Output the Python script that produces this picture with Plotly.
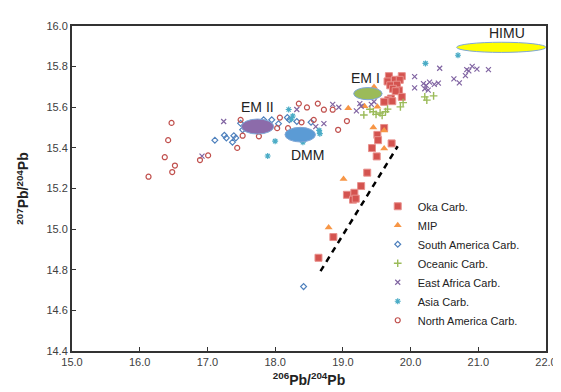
import plotly.graph_objects as go

# ---- data ----
oka_x = [19.68, 19.77, 19.87, 19.84, 19.66, 19.70, 19.80, 19.74, 19.83, 19.78, 19.71, 19.67, 19.61, 19.73, 19.87,
         19.61, 19.51, 19.52, 19.72, 19.43, 19.50, 19.36, 19.27, 19.06, 19.17, 19.15, 19.19, 18.86, 18.64]
oka_y = [15.753, 15.735, 15.753, 15.735, 15.727, 15.708, 15.711, 15.691, 15.683, 15.679, 15.643, 15.635, 15.627, 15.630, 15.651,
         15.498, 15.464, 15.438, 15.422, 15.399, 15.358, 15.278, 15.212, 15.169, 15.179, 15.145, 15.150, 14.961, 14.859]

mip_x = [19.08, 19.32, 19.51, 19.46, 19.45, 19.61, 19.61, 19.01, 18.79]
mip_y = [15.595, 15.605, 15.603, 15.700, 15.500, 15.485, 15.397, 15.247, 15.008]

sam_x = [17.11, 17.25, 17.28, 17.39, 17.37, 17.42, 17.49, 17.52, 17.83, 17.95, 18.05, 18.18, 18.21, 18.32, 18.53, 18.42]
sam_y = [15.438, 15.462, 15.449, 15.460, 15.428, 15.449, 15.521, 15.489, 15.538, 15.538, 15.519, 15.549, 15.538, 15.530, 15.526, 14.717]

oce_x = [19.31, 19.45, 19.49, 19.55, 19.63, 19.66, 19.85, 19.89, 20.21, 20.24, 20.34, 19.40, 19.58]
oce_y = [15.562, 15.578, 15.565, 15.572, 15.578, 15.591, 15.602, 15.623, 15.651, 15.635, 15.656, 15.590, 15.560]

eaf_x = [16.92, 17.24, 18.32, 18.85, 18.94, 18.60, 18.72, 19.20, 19.25, 19.27, 19.42, 19.46, 20.06, 20.06, 20.19,
         20.23, 20.21, 20.26, 20.28, 20.35, 20.41, 20.43, 20.64, 20.72, 20.81, 20.83, 20.86, 20.91, 20.98, 21.15]
eaf_y = [15.359, 15.530, 15.589, 15.614, 15.600, 15.505, 15.519, 15.582, 15.618, 15.605, 15.614, 15.627, 15.751, 15.695, 15.716,
         15.708, 15.691, 15.684, 15.724, 15.713, 15.719, 15.792, 15.740, 15.720, 15.756, 15.785, 15.779, 15.801, 15.788, 15.785]

asia_x = [18.20, 18.26, 18.24, 18.00, 17.89, 18.41, 18.65, 18.66, 20.22, 20.70]
asia_y = [15.589, 15.557, 15.541, 15.433, 15.360, 15.428, 15.486, 15.470, 15.816, 15.856]

nam_x = [16.47, 16.42, 16.37, 16.52, 16.48, 16.13, 16.89, 17.01, 17.44, 17.52, 17.49, 17.76, 18.03, 18.07, 18.35,
         18.47, 18.63, 18.72, 18.85, 18.39, 18.57, 18.93, 18.19, 19.06]
nam_y = [15.523, 15.438, 15.354, 15.313, 15.281, 15.258, 15.340, 15.363, 15.400, 15.460, 15.538, 15.457, 15.497, 15.549, 15.618,
         15.599, 15.618, 15.588, 15.588, 15.526, 15.538, 15.489, 15.497, 15.532]

trend_x = [18.67, 19.81]
trend_y = [14.793, 15.408]

# end-member reservoirs
em_names = ["EM II", "DMM", "EM I", "HIMU"]
em_cx = [17.74, 18.37, 19.37, 21.34]
em_cy = [15.505, 15.465, 15.667, 15.895]
em_rx = [0.24, 0.225, 0.21, 0.66]
em_ry = [0.037, 0.036, 0.030, 0.025]
em_lx = [17.74, 18.48, 19.34, 21.43]
em_ly = [15.60, 15.365, 15.742, 15.965]
em_fill = ["#8C6BAA", "#5B9BD5", "#9BBB59", "#FFFF00"]

x_ticks = [15.0, 16.0, 17.0, 18.0, 19.0, 20.0, 21.0, 22.0]
y_ticks = [14.4, 14.6, 14.8, 15.0, 15.2, 15.4, 15.6, 15.8, 16.0]

fig = go.Figure()

def add(name, xs, ys, symbol, color, size, lw=1.2, fill=None):
    fig.add_trace(go.Scatter(
        x=xs, y=ys, mode="markers", name=name,
        marker=dict(symbol=symbol, size=size,
                    color=fill if fill else color,
                    line=dict(color=color, width=lw)),
    ))

add("Oka Carb.", oka_x, oka_y, "square", "#E8908C", 7, lw=1, fill="#D4534F")
add("MIP", mip_x, mip_y, "triangle-up", "#F79646", 7, lw=0, fill="#F79646")
add("South America Carb.", sam_x, sam_y, "diamond-open", "#4F81BD", 4.5)
add("Oceanic Carb.", oce_x, oce_y, "cross-thin-open", "#9BBB59", 5.5, lw=1.4)
add("East Africa Carb.", eaf_x, eaf_y, "x-thin-open", "#8064A2", 5, lw=1.2)
add("Asia Carb.", asia_x, asia_y, "asterisk-open", "#4BACC6", 5, lw=1.2)
add("North America Carb.", nam_x, nam_y, "circle-open", "#C0504D", 5, lw=1.2)

fig.add_trace(go.Scatter(x=trend_x, y=trend_y, mode="lines", showlegend=False,
                         line=dict(color="black", width=2.5, dash="6px,5px")))

shapes = []
for i in range(len(em_names)):
    shapes.append(dict(type="circle", xref="x", yref="y", layer="above",
                       x0=em_cx[i] - em_rx[i], x1=em_cx[i] + em_rx[i],
                       y0=em_cy[i] - em_ry[i], y1=em_cy[i] + em_ry[i],
                       fillcolor=em_fill[i], line=dict(color="#7FA7D6", width=1)))
    fig.add_annotation(x=em_lx[i], y=em_ly[i], text=em_names[i], showarrow=False,
                       font=dict(size=14, color="#222222", family="Liberation Sans, Arial"))

fig.update_layout(
    width=561, height=392,
    margin=dict(l=64, r=12, t=13, b=49),
    paper_bgcolor="white", plot_bgcolor="white",
    font=dict(family="Liberation Sans, Arial", size=11, color="#404040"),
    shapes=shapes,
    showlegend=True,
    legend=dict(x=0.645, y=0.49, xanchor="left", yanchor="top",
                bgcolor="rgba(0,0,0,0)", font=dict(size=11, color="#222222"),
                itemwidth=30, tracegroupgap=0),
    xaxis=dict(range=[15, 22], tickvals=x_ticks, ticktext=[f"{v:.1f}" for v in x_ticks],
               showgrid=False, zeroline=False, showline=True, linecolor="#333333", linewidth=2,
               mirror=True, ticks="inside", ticklen=4, tickcolor="#333333",
               title=dict(text="<b><sup>206</sup>Pb/<sup>204</sup>Pb</b>", font=dict(size=14, color="#222222"), standoff=8)),
    yaxis=dict(range=[14.4, 16.0], tickvals=y_ticks, ticktext=[f"{v:.1f}" for v in y_ticks],
               showgrid=False, zeroline=False, showline=True, linecolor="#333333", linewidth=2,
               mirror=True, ticks="inside", ticklen=4, tickcolor="#333333",
               title=dict(text="<b><sup>207</sup>Pb/<sup>204</sup>Pb</b>", font=dict(size=14, color="#222222"), standoff=14)),
)

fig.write_html("out.html")
